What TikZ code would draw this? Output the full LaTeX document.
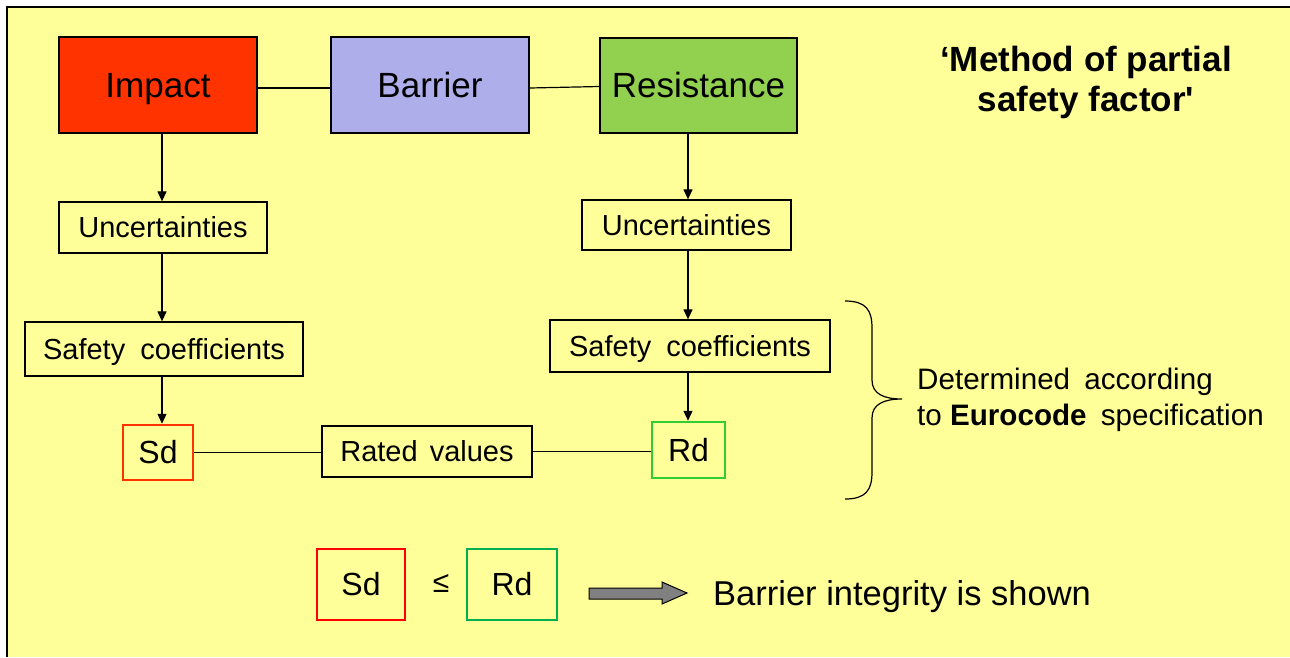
\documentclass[tikz,border=0pt]{standalone}
\usepackage{fontspec}
\setmainfont{Liberation Sans}[Ligatures=TeXOff]
\usetikzlibrary{arrows.meta}
\definecolor{bgyellow}{HTML}{FFFF99}
\definecolor{impactred}{HTML}{FF3300}
\definecolor{barrierblue}{HTML}{AEAEEA}
\definecolor{resgreen}{HTML}{92D050}
\definecolor{sdred}{HTML}{FF3300}
\definecolor{rdgreen}{HTML}{33CC33}
\definecolor{sdred2}{HTML}{FF0000}
\definecolor{rdgreen2}{HTML}{00B050}
\definecolor{arrgray}{HTML}{808080}
\tikzset{
  bigfont/.style={font=\fontsize{35}{40}\selectfont, text height=31.7pt, text depth=7.4pt},
  smallfont/.style={font=\fontsize{29}{34}\selectfont, text height=26.2pt, text depth=6.15pt},
  midfont/.style={font=\fontsize{32}{36}\selectfont, text height=29pt, text depth=6.8pt},
  bigbox/.style={bigfont, draw=black, line width=1.3pt, inner sep=0pt, minimum width=198pt, minimum height=96pt},
  smallbox/.style={smallfont, draw=black, line width=1.3pt, inner sep=0pt},
  sdbox/.style={midfont, draw=sdred, line width=2.5pt, inner sep=0pt},
  rdbox/.style={midfont, draw=rdgreen, line width=2.5pt, inner sep=0pt},
  arr/.style={line width=1.2pt, -{Triangle[length=10pt,width=9pt]}},
  conn/.style={line width=1.2pt},
}
\begin{document}
\begin{tikzpicture}[x=1pt,y=-1pt]
\useasboundingbox (0,0) rectangle (1290,657);
\fill[white] (0,0) rectangle (1290,657);
\fill[bgyellow] (7,7) rectangle (1290,657);
\draw[line width=2pt] (7,657) -- (7,7) -- (1290,7);

% top row
\node[bigbox, fill=impactred] (Impact) at (158,85) {Impact};
\node[bigbox, fill=barrierblue] (Barrier) at (430,85) {Barrier};
\node[bigbox, fill=resgreen, minimum height=95pt, minimum width=197pt] (Resistance) at (698.5,85.5) {Resistance};
\draw[conn] ([yshift=-3pt]Impact.east) -- ([yshift=-3pt]Barrier.west);
\draw[conn] ([yshift=-3pt]Barrier.east) -- ([yshift=-1pt]Resistance.west);

% left column
\node[smallbox, minimum width=208pt, minimum height=51pt] (U1) at (163,227.5) {Uncertainties};
\node[smallbox, minimum width=278pt, minimum height=54pt] (SC1) at (164,349) {Safety\hspace{7pt} coefficients};
\node[sdbox, minimum width=70pt, minimum height=55pt] (Sd1) at (158,452.5) {Sd};
\coordinate (lc) at (162,0);
\draw[arr] (lc |- Impact.south) -- (lc |- U1.north);
\draw[arr] (lc |- U1.south) -- (lc |- SC1.north);
\draw[arr] (lc |- SC1.south) -- (lc |- Sd1.north);

% right column
\node[smallbox, minimum width=209pt, minimum height=50pt] (U2) at (686.5,225) {Uncertainties};
\node[smallbox, minimum width=280pt, minimum height=52pt] (SC2) at (690,346) {Safety\hspace{7pt} coefficients};
\node[rdbox, minimum width=73pt, minimum height=56pt] (Rd1) at (688.5,450) {Rd};
\coordinate (rc) at (688,0);
\draw[arr] (rc |- Resistance.south) -- (rc |- U2.north);
\draw[arr] (rc |- U2.south) -- (rc |- SC2.north);
\draw[arr] (rc |- SC2.south) -- (rc |- Rd1.north);

% rated values
\node[smallbox, minimum width=210pt, minimum height=51pt] (Rated) at (427,451.5) {Rated\hspace{4pt} values};
\draw[conn] (Sd1.east) -- (Sd1.east -| Rated.west);
\draw[conn] (Rated.east) -- (Rated.east -| Rd1.west);

% brace
\draw[line width=1.2pt] (845,301) .. controls (866,301) and (872,310) .. (872,328) -- (872,380)
  .. controls (872,394) and (884,399) .. (902,399)
  .. controls (884,399) and (872,404) .. (872,418) -- (872,472)
  .. controls (872,490) and (866,499) .. (845,499);
\node[anchor=west, align=left, inner sep=0pt, font=\fontsize{29.6}{36}\selectfont] (det) at (917,400)
  {Determined\hspace{6pt} according\\to \textbf{Eurocode}\hspace{6pt} specification};

% title
\node[align=center, inner sep=0pt, font=\fontsize{35}{40}\selectfont\bfseries] (title) at (1086,82)
  {‘Method of partial\\safety factor'};

% bottom
\node[midfont, draw=sdred2, line width=2.5pt, inner sep=0pt, minimum width=88pt, minimum height=71pt] (Sd2) at (361,584.5) {Sd};
\node[font=\fontsize{30}{34}\selectfont, inner sep=0pt] (leq) at (441,583) {≤};
\node[midfont, draw=rdgreen2, line width=2.5pt, inner sep=0pt, minimum width=90pt, minimum height=71pt] (Rd2) at (512,584.5) {Rd};
\fill[arrgray, draw=black, line width=1pt] (589,588) -- (662,588) -- (662,582) -- (687,593) -- (662,604) -- (662,599) -- (589,599) -- cycle;
\node[anchor=west, inner sep=0pt, font=\fontsize{34.5}{40}\selectfont, text height=31.2pt, text depth=7.3pt] (integ) at (713,594) {Barrier integrity is shown};
\end{tikzpicture}
\end{document}
